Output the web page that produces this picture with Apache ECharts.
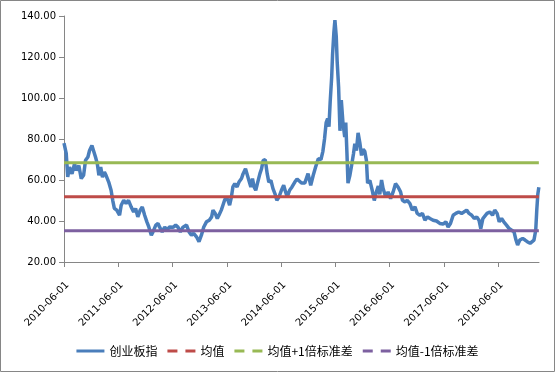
<!DOCTYPE html>
<html><head><meta charset="utf-8">
<script src="https://cdn.jsdelivr.net/npm/echarts@6/dist/echarts.min.js"></script>
<style>html,body{margin:0;padding:0;background:#fff}#c{width:555px;height:372px}</style>
</head><body><div id="c"></div>
<script>
const dates = ['2010-06-01','2010-06-16','2010-06-26','2010-07-08','2010-07-25','2010-08-11','2010-08-22','2010-09-09','2010-09-25','2010-10-11','2010-10-24','2010-11-09','2010-11-20','2010-12-06','2010-12-19','2010-12-30',
'2011-01-11','2011-01-22','2011-02-03','2011-02-15','2011-02-28','2011-03-11','2011-03-29','2011-04-14','2011-04-25','2011-05-06','2011-05-22','2011-06-10','2011-06-21','2011-07-08','2011-07-24','2011-08-09','2011-08-27','2011-09-13','2011-09-26','2011-10-11','2011-10-27','2011-11-10','2011-11-26','2011-12-11','2011-12-24',
'2012-01-10','2012-01-21','2012-02-09','2012-02-24','2012-03-05','2012-03-23','2012-04-09','2012-04-24','2012-05-12','2012-06-04','2012-06-22','2012-07-07','2012-07-23','2012-08-10','2012-09-03','2012-09-20','2012-10-06','2012-10-21','2012-11-09','2012-11-26','2012-12-12','2012-12-28',
'2013-01-15','2013-02-03','2013-02-19','2013-02-28','2013-03-15','2013-03-29','2013-04-09','2013-04-25','2013-05-06','2013-05-17','2013-05-28','2013-06-09','2013-06-20','2013-07-02','2013-07-12','2013-07-25','2013-08-09','2013-08-22','2013-09-08','2013-09-19','2013-10-05','2013-10-18','2013-10-28','2013-11-10','2013-11-21','2013-12-02','2013-12-13','2013-12-24',
'2014-01-10','2014-01-21','2014-02-01','2014-02-15','2014-02-28','2014-03-11','2014-03-25','2014-04-08','2014-04-21','2014-05-04','2014-05-18','2014-06-04','2014-06-19','2014-07-02','2014-07-13','2014-07-29','2014-08-14','2014-09-02','2014-09-17','2014-09-30','2014-10-17','2014-11-08','2014-11-30','2014-12-18',
'2015-01-04','2015-01-20','2015-02-07','2015-02-25','2015-03-10','2015-03-21','2015-04-01','2015-04-11','2015-04-20','2015-04-28','2015-05-08','2015-05-14','2015-05-23','2015-05-30','2015-06-08','2015-06-14','2015-06-24','2015-07-03','2015-07-12','2015-07-23','2015-08-04','2015-08-11','2015-08-19','2015-08-26','2015-09-07','2015-09-19','2015-10-02','2015-10-11','2015-10-22','2015-11-02','2015-11-14','2015-11-25','2015-12-06','2015-12-17','2015-12-28',
'2016-01-05','2016-01-20','2016-02-05','2016-02-19','2016-03-03','2016-03-17','2016-03-27','2016-04-08','2016-04-18','2016-05-06','2016-05-22','2016-06-08','2016-06-25','2016-07-11','2016-07-28','2016-08-14','2016-08-27','2016-09-13','2016-09-28','2016-10-16','2016-11-01','2016-11-19','2016-12-04','2016-12-22',
'2017-01-08','2017-01-25','2017-02-11','2017-02-28','2017-03-21','2017-04-13','2017-05-05','2017-05-27','2017-06-15','2017-06-30','2017-07-16','2017-08-03','2017-08-21','2017-09-09','2017-09-29','2017-10-14','2017-11-02','2017-11-18','2017-12-06','2017-12-23',
'2018-01-09','2018-01-24','2018-02-05','2018-02-19','2018-03-04','2018-03-19','2018-04-07','2018-04-25','2018-05-10','2018-05-26','2018-06-09','2018-06-25','2018-07-10','2018-07-28','2018-08-15','2018-09-01','2018-09-17','2018-09-30','2018-10-11','2018-10-26','2018-11-14','2018-11-30','2018-12-15',
'2019-01-03','2019-01-16','2019-01-29','2019-02-10','2019-02-17','2019-02-24','2019-03-03'];

const pe = [78,73,61.5,66.3,63,68,64.7,67,60.7,62.3,69.6,71.2,74.4,76.8,76,71.2,
68,62.3,66.3,61.4,63.9,62.3,59,55,50.1,46.2,45.3,42.8,47.7,50.1,48.5,50.1,46.9,44.4,46.1,42,45.3,46.9,42.8,39.6,37.1,
33.1,34.7,38,38.8,37.1,34.7,37.1,35.5,37.1,36.9,38,37,34.7,37,38,34.7,33.1,34,32.3,29.9,33.1,37.1,
39.6,40.4,42,45.3,43.7,41.2,42.8,45.3,47.7,50.1,51.7,50.1,47.7,51.7,56.6,58.2,56.6,59,60.7,63.1,65.5,64.7,59.8,56.6,60.7,56.6,55,58.2,
63.1,65.5,69.6,69.9,63.1,59,59.8,55.8,53.4,50.1,51.7,55,57.4,54.2,51.7,55,56.6,59,60.5,61.4,58.5,58.5,63.1,57.4,
62.3,66.3,70.4,70,74,80,88,90,86,98,110,121,132,138,130,118,105,84,99,88,81,88,73,58.5,62,67,72.8,77.7,74.4,83,78,72,75,74,69.6,
58.5,59.8,55,50,54,57,53,60,56,51.7,54.2,50.9,54.2,58.2,56.6,54.2,50.1,49.3,50.1,48.5,45.3,46.9,43.7,42.8,
43.7,40.4,42,41.2,40.4,40,38.8,38.5,39.6,37.1,38.8,42.8,43.7,44.4,43.7,44.4,45.3,43.7,42.8,41.2,
42,40.4,36.3,41.2,42,43.7,44.4,42.8,45.3,43.7,39.6,41.2,39.6,38,36.3,35.5,34.7,30.7,28.3,30.7,31.5,30.7,29.9,
29.1,29.9,30.7,35.5,45.3,53,56.5];

const meanValue = 51.8;
const stdValue = 16.6;
const tickDates = ['2010-06-01','2011-06-01','2012-06-01','2013-06-01','2014-06-01','2015-06-01','2016-06-01','2017-06-01','2018-06-01'];
const axisEnd = '2019-03-04';
const yTicks = [20, 40, 60, 80, 100, 120, 140];
const names = ['创业板指', '均值', '均值+1倍标准差', '均值-1倍标准差'];
const colors = ['#4A7EBB', '#BE4B48', '#98B954', '#7D60A0'];

const T = s => Date.parse(s + 'T00:00:00Z');
const levels = [meanValue, meanValue + stdValue, meanValue - stdValue];
const first = T(dates[0]), last = T(dates[dates.length - 1]);
const tickValues = tickDates.map(T);

function fmtDate(v) {
  const d = new Date(v);
  const p = n => (n < 10 ? '0' : '') + n;
  return d.getUTCFullYear() + '-' + p(d.getUTCMonth() + 1) + '-' + p(d.getUTCDate());
}

const dashIcon = 'path://M0,0H10V3H0Z M18,0H28V3H18Z';
const solidIcon = 'path://M0,0H28V3H0Z';

const chart = echarts.init(document.getElementById('c'), null, {renderer: 'canvas'});
chart.setOption({
  animation: false,
  backgroundColor: '#fff',
  color: colors,
  graphic: [{
    type: 'rect', silent: true, z: 100,
    shape: {x: 0.5, y: 0.5, width: 554, height: 371},
    style: {fill: 'transparent', stroke: '#868686', lineWidth: 1}
  }],
  grid: {left: 64, right: 16, top: 16, bottom: 110, containLabel: false},
  legend: {
    top: 340, left: 'center',
    itemWidth: 28, itemHeight: 3, itemGap: 10,
    textStyle: {fontFamily: 'Noto Sans CJK SC', fontSize: 12, color: '#000'},
    data: [
      {name: names[0], icon: solidIcon},
      {name: names[1], icon: dashIcon},
      {name: names[2], icon: dashIcon},
      {name: names[3], icon: dashIcon}
    ]
  },
  xAxis: {
    type: 'value',
    min: first, max: T(axisEnd),
    axisLine: {show: true, lineStyle: {color: '#868686', width: 1}},
    axisTick: {show: true, length: 5, customValues: tickValues, lineStyle: {color: '#868686'}},
    axisLabel: {
      customValues: tickValues, rotate: 45, margin: 18, verticalAlign: 'top',
      fontFamily: 'DejaVu Sans', fontSize: 10, color: '#000',
      formatter: v => fmtDate(v)
    },
    splitLine: {show: false}
  },
  yAxis: {
    type: 'value', min: yTicks[0], max: yTicks[yTicks.length - 1], interval: 20,
    axisLine: {show: true, lineStyle: {color: '#868686', width: 1}},
    axisTick: {show: true, length: 5, lineStyle: {color: '#868686'}},
    axisLabel: {margin: 8, fontFamily: 'DejaVu Sans', fontSize: 10, color: '#000', formatter: v => v.toFixed(2)},
    splitLine: {show: false}
  },
  series: [
    {
      name: names[0], type: 'line', showSymbol: false, symbol: 'none',
      lineStyle: {width: 3.5, color: colors[0]},
      data: dates.map((d, i) => [T(d), pe[i]])
    }
  ].concat(levels.map((lv, k) => ({
    name: names[k + 1], type: 'line', showSymbol: false, symbol: 'none',
    lineStyle: {width: 3, color: colors[k + 1]},
    data: [[first, lv], [last, lv]]
  })))
});
</script>
</body></html>
